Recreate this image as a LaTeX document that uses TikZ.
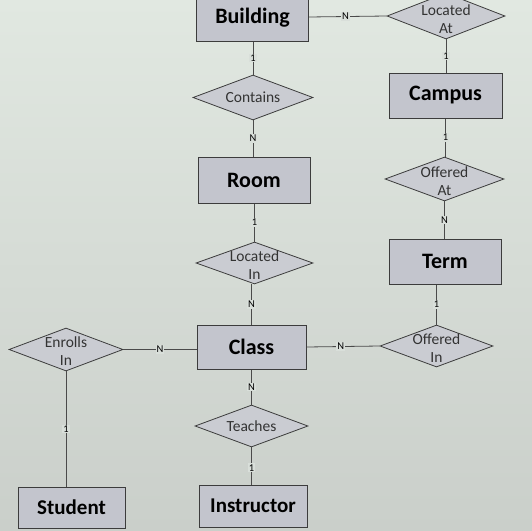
\documentclass[tikz,border=0pt]{standalone}
\usepackage{fontspec}
\setmainfont{Carlito}
\usetikzlibrary{shapes.geometric}
\definecolor{bgtop}{HTML}{E1E8E1}
\definecolor{bgbot}{HTML}{CACFCA}
\definecolor{entfill}{HTML}{C3C5CD}
\definecolor{relfill}{HTML}{CACCD2}
\definecolor{edgecol}{HTML}{3C3C3C}
\definecolor{linecol}{HTML}{4A4A4A}
\definecolor{cardbg}{HTML}{D9DFDA}
\tikzset{
  entity/.style={draw=edgecol, line width=1pt, fill=entfill, minimum width=112pt, minimum height=45pt, inner sep=0pt, font=\bfseries\fontsize{22}{24}\selectfont},
  rel/.style={shape=diamond, draw=edgecol, line width=0.8pt, fill=relfill, minimum width=118pt, minimum height=44pt, inner sep=0pt},
  reltext/.style={align=center, inner sep=0pt, font=\fontsize{15.5}{18}\selectfont, text=black!80},
  card/.style={fill=cardbg, inner sep=1pt, font=\fontsize{10.5}{10.5}\selectfont},
  conn/.style={draw=linecol, line width=0.8pt}
}
\begin{document}
\begin{tikzpicture}[x=1pt, y=-1pt]
\useasboundingbox (0,0) rectangle (532,530);
\clip (0,0) rectangle (532,530);
\shade[top color=bgtop, bottom color=bgbot] (0,0) rectangle (532,530);

% entities
\node[entity, minimum height=47pt] (building) at (252.5,17.5) {Building};
\node[entity, minimum width=113pt] (campus) at (445.5,95.5) {Campus};
\node[entity, minimum height=46pt] (room) at (254,180) {Room};
\node[entity] (term) at (445,261.5) {Term};
\node[entity, minimum width=109pt, minimum height=44pt] (class) at (251.5,347) {Class};
\node[entity, minimum width=107pt, minimum height=41pt, font=\bfseries\fontsize{21}{23}\selectfont] (student) at (71.5,507.5) {Student};
\node[entity, minimum width=108pt, minimum height=42pt, font=\bfseries\fontsize{21}{23}\selectfont] (instructor) at (253,506) {Instructor};

% relationships
\node[rel, minimum height=46pt] (locatedat) at (446,16) {};
\node[reltext, anchor=base] (locatedatt) at (446,15) {Located};
\node[reltext, anchor=base] (locatedatt2) at (446,33) {At};
\node[rel, minimum width=120pt, minimum height=45pt] (contains) at (253,97.5) {};
\node[reltext] (containst) at (contains) {Contains};
\node[rel, minimum width=119pt] (offeredat) at (444.5,179) {};
\node[reltext, anchor=base] (offeredatt) at (444.5,177) {Offered};
\node[reltext, anchor=base] (offeredatt2) at (444.5,195) {At};
\node[rel, minimum width=117pt, minimum height=42pt] (locatedin) at (254.5,263) {};
\node[reltext, anchor=base] (locatedint) at (254.5,261) {Located};
\node[reltext, anchor=base] (locatedint2) at (254.5,279) {In};
\node[rel, minimum width=113pt, minimum height=42pt] (offeredin) at (436.5,346) {};
\node[reltext, anchor=base] (offeredint) at (436.5,344) {Offered};
\node[reltext, anchor=base] (offeredint2) at (436.5,362) {In};
\node[rel, minimum width=114pt, minimum height=43pt] (enrollsin) at (66,349.5) {};
\node[reltext, anchor=base] (enrollsint) at (66,347) {Enrolls};
\node[reltext, anchor=base] (enrollsint2) at (66,365) {In};
\node[rel, minimum width=113pt, minimum height=42pt] (teaches) at (251.5,426) {};
\node[reltext] (teachest) at (teaches) {Teaches};

% connectors
\draw[conn] (building.east |- 0,17) -- node[card, pos=0.47] {N} (locatedat.west);
\draw[conn] (locatedat.south) -- node[card] {1} (campus.north -| locatedat.south);
\draw[conn] (building.south -| contains.north) -- node[card] {1} (contains.north);
\draw[conn] (contains.south) -- node[card] {N} (contains.south |- room.north);
\draw[conn] (campus.south) -- node[card] {1} (campus.south |- offeredat.north);
\draw[conn] (offeredat.south) -- node[card] {N} (offeredat.south |- term.north);
\draw[conn] (room.south -| locatedin.north) -- node[card] {1} (locatedin.north);
\draw[conn] (locatedin.south -| class.north) -- node[card] {N} (class.north);
\draw[conn] (offeredin.north |- term.south) -- node[card] {1} (offeredin.north);
\draw[conn] (class.east) -- node[card, pos=0.47] {N} (offeredin.west);
\draw[conn] (enrollsin.east) -- node[card, pos=0.5] {N} (class.west |- enrollsin.east);
\draw[conn] (class.south) -- node[card, pos=0.5] {N} (class.south |- teaches.north);
\draw[conn] (teaches.south) -- node[card, pos=0.55] {1} (teaches.south |- instructor.north);
\draw[conn] (enrollsin.south) -- node[card, pos=0.5] {1} (enrollsin.south |- student.north);
\end{tikzpicture}
\end{document}
